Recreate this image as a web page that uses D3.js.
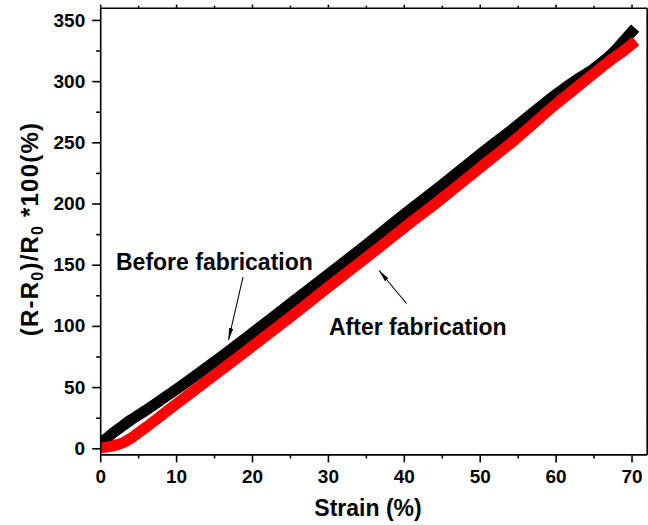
<!DOCTYPE html>
<html>
<head>
<meta charset="utf-8">
<script src="https://cdn.jsdelivr.net/npm/d3@7"></script>
<style>
  html, body { margin: 0; padding: 0; background: #fff; }
  svg { display: block; }
  text { font-family: "Liberation Sans", Arial, sans-serif; font-weight: bold; fill: #000; }
</style>
</head>
<body>
<svg id="chart" width="648" height="525"></svg>
<script>
// Strain (%) sample positions shared by both curves
const strain = [0, 1, 2, 3, 4, 5, 6, 8, 10, 15, 20, 25, 30, 35, 40, 45, 50, 55, 60, 63, 65, 66, 67, 68, 69, 70];

// Relative resistance change (R-R0)/R0*100 (%)
const before = [4, 9, 14, 18.5, 23, 27, 31, 39.5, 48, 70.5, 94, 118, 142, 166, 191, 215, 240, 264, 289, 302, 310, 315, 320, 326, 333, 340];
const after  = [0.5, 1.2, 2.5, 4.5, 8, 12.5, 17, 26.5, 36, 59.5, 83, 107, 131.5, 155.5, 180, 204, 229, 254, 281, 296, 306, 311, 316, 320.5, 325, 330];

const xTicks = [0, 10, 20, 30, 40, 50, 60, 70];
const yTicks = [0, 50, 100, 150, 200, 250, 300, 350];

const svg = d3.select("#chart");
const plotLeft = 100.2, plotRight = 646.7, plotTop = 7.7, plotBottom = 454.4;

const x = d3.scaleLinear().domain([0, 72]).range([plotLeft, plotRight]);
const y = d3.scaleLinear().domain([-5, 360]).range([plotBottom, plotTop]);

// clip the thick curves to the plotting frame
svg.append("clipPath").attr("id", "plotClip")
  .append("rect").attr("x", plotLeft).attr("y", plotTop)
  .attr("width", plotRight - plotLeft).attr("height", plotBottom - plotTop);

const line = d3.line()
  .x((d, i) => x(strain[i]))
  .y(d => y(d))
  .curve(d3.curveMonotoneX);

const curves = svg.append("g").attr("clip-path", "url(#plotClip)");
curves.append("path").datum(before)
  .attr("d", line).attr("fill", "none")
  .attr("stroke", "#000").attr("stroke-width", 11)
  .attr("stroke-linecap", "square").attr("stroke-linejoin", "round");
curves.append("path").datum(after)
  .attr("d", line).attr("fill", "none")
  .attr("stroke", "#ff0000").attr("stroke-width", 11)
  .attr("stroke-linecap", "square").attr("stroke-linejoin", "round");

// axes: labelled bottom/left, bare ticks on top/right
const minorX = d3.range(5, 72, 10);
const minorY = d3.range(25, 360, 50);

function styleAxis(g) {
  g.selectAll("path.domain").attr("stroke", "#000").attr("stroke-width", 1.6);
  g.selectAll(".tick line").attr("stroke", "#000").attr("stroke-width", 1.6);
  g.selectAll("text").attr("font-size", 19);
}

const gx = svg.append("g").attr("transform", `translate(0,${plotBottom})`)
  .call(d3.axisBottom(x).tickValues(xTicks).tickSize(8).tickSizeOuter(0).tickPadding(7).tickFormat(d3.format("d")));
styleAxis(gx);
svg.append("g").attr("transform", `translate(0,${plotBottom})`)
  .call(d3.axisBottom(x).tickValues(minorX).tickSize(4).tickFormat(""))
  .call(g => g.select(".domain").remove())
  .call(styleAxis);

const gy = svg.append("g").attr("transform", `translate(${plotLeft},0)`)
  .call(d3.axisLeft(y).tickValues(yTicks).tickSize(8).tickSizeOuter(0).tickPadding(7).tickFormat(d3.format("d")));
styleAxis(gy);
svg.append("g").attr("transform", `translate(${plotLeft},0)`)
  .call(d3.axisLeft(y).tickValues(minorY).tickSize(4).tickFormat(""))
  .call(g => g.select(".domain").remove())
  .call(styleAxis);

svg.append("g").attr("transform", `translate(0,${plotTop})`)
  .call(d3.axisTop(x).tickValues(xTicks).tickSize(3).tickSizeOuter(0).tickFormat(""))
  .call(styleAxis);
svg.append("g").attr("transform", `translate(0,${plotTop})`)
  .call(d3.axisTop(x).tickValues(minorX).tickSize(2).tickFormat(""))
  .call(g => g.select(".domain").remove()).call(styleAxis);
svg.append("g").attr("transform", `translate(${plotRight},0)`)
  .call(d3.axisRight(y).tickValues(yTicks).tickSize(3).tickSizeOuter(0).tickFormat(""))
  .call(styleAxis);
svg.append("g").attr("transform", `translate(${plotRight},0)`)
  .call(d3.axisRight(y).tickValues(minorY).tickSize(2).tickFormat(""))
  .call(g => g.select(".domain").remove()).call(styleAxis);

// axis titles
svg.append("text").attr("x", 368).attr("y", 516)
  .attr("text-anchor", "middle").attr("font-size", 23).text("Strain (%)");

const yt = svg.append("text")
  .attr("transform", "translate(38,229) rotate(-90)")
  .attr("text-anchor", "middle").attr("font-size", 24)
  .attr("letter-spacing", 1.2);
yt.append("tspan").text("(R-R");
yt.append("tspan").attr("font-size", 16).attr("dy", 5).text("0");
yt.append("tspan").attr("dy", -5).text(")/R");
yt.append("tspan").attr("font-size", 16).attr("dy", 5).text("0");
yt.append("tspan").attr("dy", -5).text(" *100(%)");

// annotations with arrows
const defs = svg.append("defs");
defs.append("marker").attr("id", "head")
  .attr("viewBox", "0 0 12 6").attr("refX", 12).attr("refY", 3)
  .attr("markerWidth", 12).attr("markerHeight", 6)
  .attr("markerUnits", "userSpaceOnUse").attr("orient", "auto")
  .append("path").attr("d", "M0,0.8 L12,3 L0,5.2 Z").attr("fill", "#000");

svg.append("text").attr("x", 116).attr("y", 270).attr("font-size", 23).text("Before fabrication");
svg.append("line").attr("x1", 243).attr("y1", 277).attr("x2", 228.5).attr("y2", 340)
  .attr("stroke", "#000").attr("stroke-width", 1.1).attr("marker-end", "url(#head)");

svg.append("text").attr("x", 329).attr("y", 335).attr("font-size", 23).text("After fabrication");
svg.append("line").attr("x1", 406.5).attr("y1", 303.5).attr("x2", 379).attr("y2", 270.5)
  .attr("stroke", "#000").attr("stroke-width", 1.1).attr("marker-end", "url(#head)");
</script>
</body>
</html>
